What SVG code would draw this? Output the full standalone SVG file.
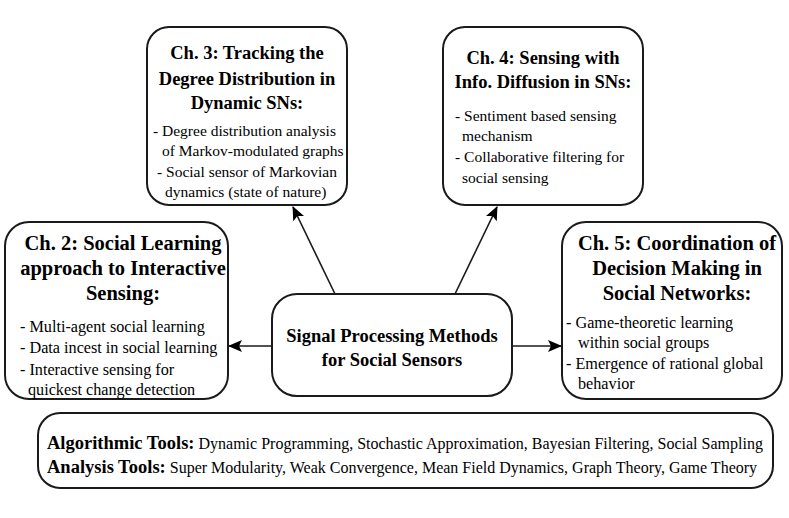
<svg xmlns="http://www.w3.org/2000/svg" width="789" height="518" viewBox="0 0 789 518">
<style>
text{font-family:'Liberation Serif','Times New Roman',serif;fill:#000}
.box{fill:#fff;stroke:#1a1a1a;stroke-width:2}
.t{font-weight:bold;font-size:18.5px;text-anchor:middle}
.ts{font-weight:bold;font-size:20.5px;text-anchor:middle}
.b{font-size:15.5px}
.bs{font-size:16.2px}
.bt{font-weight:bold;font-size:18.5px}
.rt{font-size:16px;font-weight:normal}
.c{stroke:#1a1a1a;stroke-width:1.6;fill:none}
</style>
<defs>
<marker id="ah" markerUnits="userSpaceOnUse" markerWidth="14" markerHeight="12" refX="13" refY="6" orient="auto">
<path d="M0,0 L14,6 L0,12 L3,6 z" fill="#000"/>
</marker>
</defs>
<rect width="789" height="518" fill="#fff"/>
<g id="connectors">
<line class="c" x1="335" y1="294" x2="293" y2="207" marker-end="url(#ah)"/>
<line class="c" x1="455" y1="294" x2="497" y2="207" marker-end="url(#ah)"/>
<line class="c" x1="272" y1="346" x2="229" y2="346" marker-end="url(#ah)"/>
<line class="c" x1="512" y1="346" x2="561" y2="346" marker-end="url(#ah)"/>
</g>
<g id="ch3">
<rect class="box" x="147" y="27" width="200" height="178" rx="22"/>
<text class="t" x="247" y="59">Ch. 3: Tracking the</text>
<text class="t" x="247" y="84.5">Degree Distribution in</text>
<text class="t" x="247" y="109">Dynamic SNs:</text>
<text class="b" x="153" y="136">- Degree distribution analysis</text>
<text class="b" x="162" y="156">of Markov-modulated graphs</text>
<text class="b" x="157" y="177">- Social sensor of Markovian</text>
<text class="b" x="165" y="197">dynamics (state of nature)</text>
</g>
<g id="ch4">
<rect class="box" x="443" y="27" width="200" height="178" rx="22"/>
<text class="t" x="543" y="63.5">Ch. 4: Sensing with</text>
<text class="t" x="543" y="87.5">Info. Diffusion in SNs:</text>
<text class="b" x="455" y="121">- Sentiment based sensing</text>
<text class="b" x="462" y="141">mechanism</text>
<text class="b" x="455" y="162">- Collaborative filtering for</text>
<text class="b" x="462" y="183">social sensing</text>
</g>
<g id="ch2">
<rect class="box" x="5" y="222" width="223" height="177" rx="24"/>
<text class="ts" x="123" y="250">Ch. 2: Social Learning</text>
<text class="ts" x="123" y="275">approach to Interactive</text>
<text class="ts" x="123" y="300">Sensing:</text>
<text class="bs" x="20" y="332">- Multi-agent social learning</text>
<text class="bs" x="20" y="353">- Data incest in social learning</text>
<text class="bs" x="20" y="375">- Interactive sensing for</text>
<text class="bs" x="28" y="395">quickest change detection</text>
</g>
<g id="ch5">
<rect class="box" x="562" y="222" width="220" height="177" rx="24"/>
<text class="ts" x="677" y="250">Ch. 5: Coordination of</text>
<text class="ts" x="677" y="275">Decision Making in</text>
<text class="ts" x="677" y="300">Social Networks:</text>
<text class="bs" x="566" y="328">- Game-theoretic learning</text>
<text class="bs" x="578" y="348">within social groups</text>
<text class="bs" x="566" y="369">- Emergence of rational global</text>
<text class="bs" x="578" y="389">behavior</text>
</g>
<g id="center">
<rect class="box" x="272" y="294" width="240" height="102" rx="25"/>
<text class="t" x="392" y="342">Signal Processing Methods</text>
<text class="t" x="392" y="366">for Social Sensors</text>
</g>
<g id="tools">
<rect class="box" x="38" y="413" width="735" height="75" rx="22"/>
<text x="47" y="449"><tspan class="bt">Algorithmic Tools:</tspan><tspan class="rt"> Dynamic Programming, Stochastic Approximation, Bayesian Filtering, Social Sampling</tspan></text>
<text x="47" y="473"><tspan class="bt">Analysis Tools:</tspan><tspan class="rt"> Super Modularity, Weak Convergence, Mean Field Dynamics, Graph Theory, Game Theory</tspan></text>
</g>
</svg>
